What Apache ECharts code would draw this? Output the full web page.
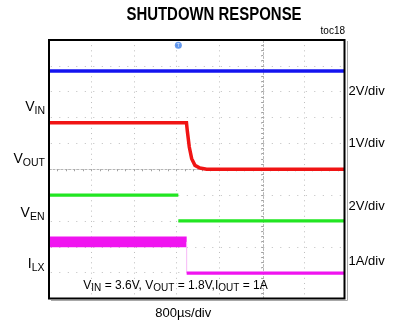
<!DOCTYPE html>
<html>
<head>
<meta charset="utf-8">
<script src="https://cdn.jsdelivr.net/npm/echarts@6/dist/echarts.min.js"></script>
<style>
  html, body { margin: 0; padding: 0; background: #fff; }
  #chart { width: 394px; height: 321px; }
</style>
</head>
<body>
<div id="chart"></div>
<script>
// Shutdown transient captured on a scope: time in µs (800µs/div), level in screen divisions
const timeRange = [-33, 5526];
const timePerDiv = 800;
const divRange = [0, 10];
const centerTime = 4000;
const centerDiv = 5;

const vinTrace = [[-33, 8.8], [5526, 8.8]];
const voutTrace = [[-33, 6.8], [2553, 6.8], [2568, 6.5], [2606, 5.86], [2651, 5.41],
                   [2713, 5.15], [2807, 5.05], [2933, 5.0], [5526, 5.0]];
const venTrace = [[-33, 4.0], [2400, 4.0], [2400, '-'], [2400, 3.0], [5526, 3.0]];
const ilxSwitching = [[-33, 2.19], [2557, 2.19]];
const ilxEdge = [[2557, 2.19], [2557, 0.98]];
const ilxTrace = [[2557, 0.98], [5526, 0.98]];
const triggerMark = [[2400, 9.8]];

const channelLabels = ['{m|V}{s|IN}', '{m|V}{s|OUT}', '{m|V}{s|EN}', '{m|I}{s|LX}'];
const channelScales = ['2V/div', '1V/div', '2V/div', '1A/div'];
const titleText = 'SHUTDOWN RESPONSE';
const figureTag = 'toc18';
const timebaseText = '800µs/div';
const conditionText = '{m|V}{s|IN}{m| = 3.6V, V}{s|OUT}{m| = 1.8V,I}{s|OUT}{m| = 1A}';

const FONT = '"Liberation Sans", Arial, sans-serif';
const GRID = { left: 49, top: 40, width: 295.5, height: 258.5 };

const chart = echarts.init(document.getElementById('chart'), null, { renderer: 'canvas' });

function trace(data, color, width, z) {
  return {
    type: 'line', data: data, xAxisIndex: 0, yAxisIndex: 0,
    symbol: 'none', smooth: false, connectNulls: false, z: z || 3,
    lineStyle: { color: color, width: width, cap: 'butt', join: 'miter' },
    emphasis: { disabled: true }, silent: true
  };
}

const subRich = (mainSize, subSize, pad) => ({
  m: { fontSize: mainSize, lineHeight: mainSize, fontFamily: FONT, color: '#000',
       verticalAlign: 'bottom', padding: [0, 0, pad, 0] },
  s: { fontSize: subSize, lineHeight: subSize, fontFamily: FONT, color: '#000',
       verticalAlign: 'bottom' }
});

const labelY = [109.5, 162, 215.5, 266.3];
const labelRight = [45, 45, 44.5, 44.5];
const scaleY = [91.7, 143.3, 206, 261];

const graphics = [
  { type: 'text', x: 214, y: 15, scaleX: 0.83, style: { text: titleText, align: 'center', verticalAlign: 'middle',
      font: 'bold 18px ' + FONT, fill: '#000' } },
  { type: 'text', x: 345, y: 31.7, style: { text: figureTag, align: 'right', verticalAlign: 'middle',
      font: '10px ' + FONT, fill: '#000' } },
  { type: 'text', x: 183.3, y: 313.8, style: { text: timebaseText, align: 'center', verticalAlign: 'middle',
      font: '13px ' + FONT, fill: '#000' } },
  { type: 'text', x: 83.3, y: 287.2, z: 10, style: { text: conditionText, align: 'left', verticalAlign: 'middle',
      rich: subRich(12, 10, 2) } },
  // faint drop shadow along the right and bottom of the graticule frame
  { type: 'polyline', z: 4, shape: { points: [[347.5, 41], [347.5, 300.5], [51, 300.5]] },
    style: { stroke: '#a8a8a8', lineWidth: 1, fill: null } }
];
channelLabels.forEach((t, i) => {
  graphics.push({ type: 'text', x: labelRight[i], y: labelY[i],
    style: { text: t, align: 'right', verticalAlign: 'middle', rich: subRich(14, 10.5, 2.5) } });
});
channelScales.forEach((t, i) => {
  graphics.push({ type: 'text', x: 348.5, y: scaleY[i],
    style: { text: t, align: 'left', verticalAlign: 'middle', font: '13px ' + FONT, fill: '#000' } });
});

const option = {
  animation: false,
  backgroundColor: '#fff',
  grid: Object.assign({ show: true, borderColor: '#000', borderWidth: 2, backgroundColor: 'transparent', z: 5 }, GRID),
  xAxis: [
    { type: 'value', min: timeRange[0], max: timeRange[1], interval: timePerDiv,
      axisLine: { show: false }, axisTick: { show: false }, axisLabel: { show: false },
      splitLine: { show: true, lineStyle: { color: '#bdbdbd', width: 1, type: [1, 4.17] } } },
    // horizontal centre graticule line with minor ticks
    { type: 'value', min: timeRange[0], max: timeRange[1], interval: timePerDiv / 5,
      position: 'bottom', offset: -GRID.height / 2,
      axisLine: { show: true, onZero: false, lineStyle: { color: '#b5b5b5', width: 1, type: [2, 2] } },
      axisTick: { show: true, length: 2, inside: false, lineStyle: { color: '#a0a0a0' } },
      axisLabel: { show: false }, splitLine: { show: false } }
  ],
  yAxis: [
    { type: 'value', min: divRange[0], max: divRange[1], interval: 1,
      axisLine: { show: false }, axisTick: { show: false }, axisLabel: { show: false },
      splitLine: { show: true, lineStyle: { color: '#bdbdbd', width: 1, type: [1, 7.5], dashOffset: 6.7 } } },
    // vertical centre graticule line with minor ticks
    { type: 'value', min: divRange[0], max: divRange[1], interval: 0.2,
      position: 'left', offset: -(GRID.width * (centerTime - timeRange[0]) / (timeRange[1] - timeRange[0])),
      axisLine: { show: true, onZero: false, lineStyle: { color: '#b5b5b5', width: 1, type: [2, 2] } },
      axisTick: { show: true, length: 2, inside: false, lineStyle: { color: '#a0a0a0' } },
      axisLabel: { show: false }, splitLine: { show: false } }
  ],
  series: [
    trace(vinTrace, '#1414f0', 3.6),
    trace(voutTrace, '#f01414', 3.5),
    trace(venTrace, '#22e622', 3.3),
    trace(ilxSwitching, '#f014f0', 10.6),
    trace(ilxEdge, '#f7b8f7', 1),
    trace(ilxTrace, '#f014f0', 3.2),
    { type: 'scatter', data: triggerMark, symbol: 'circle', symbolSize: 7, z: 6, silent: true,
      itemStyle: { color: '#3d80ea' },
      label: { show: true, position: 'inside', formatter: 'T', fontSize: 5, color: '#fff', fontFamily: FONT } }
  ],
  graphic: graphics
};

chart.setOption(option);
</script>
</body>
</html>
